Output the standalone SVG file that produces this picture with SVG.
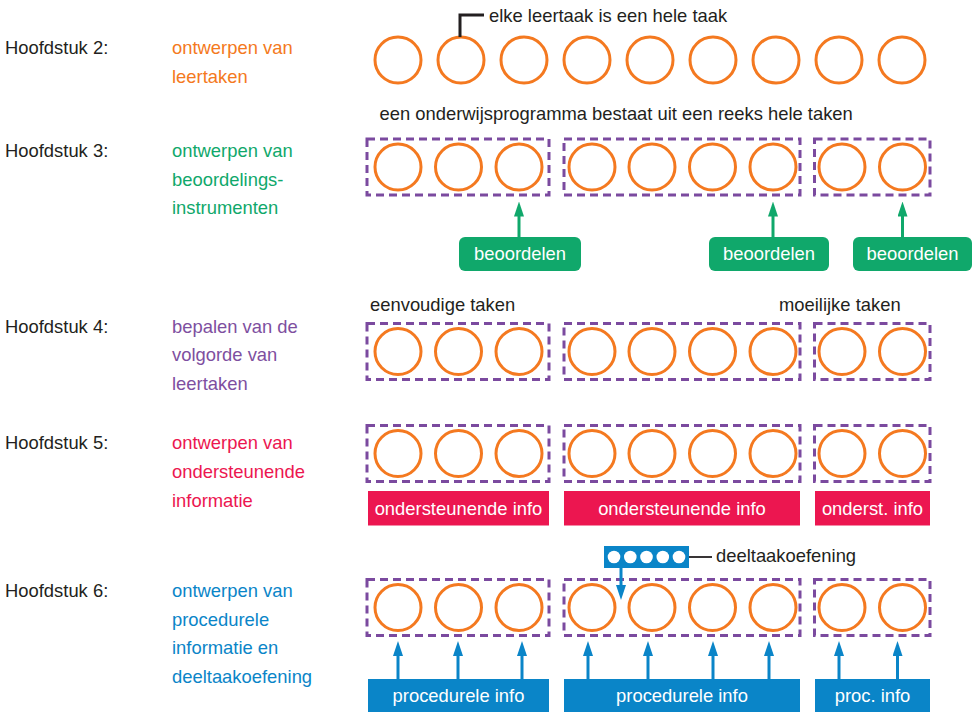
<svg xmlns="http://www.w3.org/2000/svg" width="978" height="712" viewBox="0 0 978 712">
<style>
text{font-family:"Liberation Sans",Arial,sans-serif;font-size:18.4px;fill:#231F20}
.or{fill:#F47920}.gr{fill:#10A86B}.pu{fill:#7E4FA0}.rd{fill:#EC1650}.bl{fill:#0A85C8}
.c{fill:none;stroke:#F47920;stroke-width:3}
.db{fill:none;stroke:#7B4A9F;stroke-width:3;stroke-dasharray:8 5}
.wt{fill:#fff;text-anchor:middle}
.ga{stroke:#10A86B;stroke-width:3;fill:none}
.ba{stroke:#0A85C8;stroke-width:3;fill:none}
.k{stroke:#231F20;fill:none}
</style>
<defs>
<marker id="ag" viewBox="0 0 15 10" refX="5" refY="5" markerWidth="15" markerHeight="10" markerUnits="userSpaceOnUse" orient="auto"><path d="M0,0 L15,5 L0,10 Z" fill="#10A86B"/></marker>
<marker id="ab" viewBox="0 0 15 10" refX="5" refY="5" markerWidth="15" markerHeight="10" markerUnits="userSpaceOnUse" orient="auto"><path d="M0,0 L15,5 L0,10 Z" fill="#0A85C8"/></marker>
<g id="row"><circle class="c" cx="398" cy="0" r="23"/><circle class="c" cx="458.5" cy="0" r="23"/><circle class="c" cx="519" cy="0" r="23"/><circle class="c" cx="592" cy="0" r="23"/><circle class="c" cx="652" cy="0" r="23"/><circle class="c" cx="712.5" cy="0" r="23"/><circle class="c" cx="773" cy="0" r="23"/><circle class="c" cx="842" cy="0" r="23"/><circle class="c" cx="902.5" cy="0" r="23"/><rect class="db" x="367" y="-28" width="182" height="56"/><rect class="db" x="564" y="-28" width="236" height="56"/><rect class="db" x="814.5" y="-28" width="115.5" height="56"/></g>
</defs>

<g id="labels">
<text x="5" y="54">Hoofdstuk 2:</text>
<text class="or" x="172" y="54">ontwerpen van</text>
<text class="or" x="172" y="82.5">leertaken</text>
<text x="5" y="157">Hoofdstuk 3:</text>
<text class="gr" x="172" y="157">ontwerpen van</text>
<text class="gr" x="172" y="185.5">beoordelings-</text>
<text class="gr" x="172" y="214">instrumenten</text>
<text x="5" y="332.5">Hoofdstuk 4:</text>
<text class="pu" x="172" y="332.5">bepalen van de</text>
<text class="pu" x="172" y="361">volgorde van</text>
<text class="pu" x="172" y="390">leertaken</text>
<text x="5" y="449">Hoofdstuk 5:</text>
<text class="rd" x="172" y="449">ontwerpen van</text>
<text class="rd" x="172" y="478">ondersteunende</text>
<text class="rd" x="172" y="506.5">informatie</text>
<text x="5" y="597">Hoofdstuk 6:</text>
<text class="bl" x="172" y="597">ontwerpen van</text>
<text class="bl" x="172" y="625.5">procedurele</text>
<text class="bl" x="172" y="654">informatie en</text>
<text class="bl" x="172" y="682.5">deeltaakoefening</text>
</g>

<g id="row1">
<circle class="c" cx="398" cy="60" r="23"/><circle class="c" cx="461" cy="60" r="23"/><circle class="c" cx="524" cy="60" r="23"/><circle class="c" cx="587" cy="60" r="23"/><circle class="c" cx="650" cy="60" r="23"/><circle class="c" cx="713" cy="60" r="23"/><circle class="c" cx="776" cy="60" r="23"/><circle class="c" cx="839" cy="60" r="23"/><circle class="c" cx="902" cy="60" r="23"/>
<text x="489" y="22">elke leertaak is een hele taak</text>
<text x="379.5" y="120">een onderwijsprogramma bestaat uit een reeks hele taken</text>
</g>

<g id="row3"><use href="#row" y="167"/></g>
<g id="row4"><use href="#row" y="351.5"/>
<text x="370" y="311">eenvoudige taken</text>
<text x="779" y="311">moeilijke taken</text>
</g>
<g id="row5"><use href="#row" y="453.5"/></g>
<g id="row6"><use href="#row" y="607.5"/></g>

<g id="beoordelen1"><rect class="gr" x="459" y="237" width="122" height="34" rx="6"/><text class="wt" x="520" y="260">beoordelen</text></g>
<g id="beoordelen2"><rect class="gr" x="709" y="237" width="120" height="34" rx="6"/><text class="wt" x="769" y="260">beoordelen</text></g>
<g id="beoordelen3"><rect class="gr" x="853" y="237" width="119" height="34" rx="6"/><text class="wt" x="912.5" y="260">beoordelen</text></g>

<g id="ondersteunend1"><rect class="rd" x="368" y="491" width="181" height="34.5"/><text class="wt" x="458.5" y="515">ondersteunende info</text></g>
<g id="ondersteunend2"><rect class="rd" x="564" y="491" width="236" height="34.5"/><text class="wt" x="682" y="515">ondersteunende info</text></g>
<g id="ondersteunend3"><rect class="rd" x="815" y="491" width="115" height="34.5"/><text class="wt" x="872.5" y="515">onderst. info</text></g>

<g id="procedureel1"><rect class="bl" x="368" y="679" width="181" height="33"/><text class="wt" x="458.5" y="702">procedurele info</text></g>
<g id="procedureel2"><rect class="bl" x="564" y="679" width="236" height="33"/><text class="wt" x="682" y="702">procedurele info</text></g>
<g id="procedureel3"><rect class="bl" x="815" y="679" width="115" height="33"/><text class="wt" x="872.5" y="702">proc. info</text></g>

<g id="deeltaak">
<rect class="bl" x="604" y="546" width="85" height="22"/>
<circle cx="614" cy="557" r="6.3" fill="#fff"/><circle cx="630.3" cy="557" r="6.3" fill="#fff"/><circle cx="646.5" cy="557" r="6.3" fill="#fff"/><circle cx="662.8" cy="557" r="6.3" fill="#fff"/><circle cx="679" cy="557" r="6.3" fill="#fff"/>
<text x="716" y="562">deeltaakoefening</text>
</g>

<g id="connectors">
<polyline class="k" stroke-width="3" points="460,37 460,15 484,15"/>
<line class="k" stroke-width="1.8" x1="689" y1="557" x2="712" y2="557"/>
<line class="ga" x1="519" y1="237" x2="519" y2="211.5" marker-end="url(#ag)"/>
<line class="ga" x1="773" y1="237" x2="773" y2="211.5" marker-end="url(#ag)"/>
<line class="ga" x1="902.5" y1="237" x2="902.5" y2="211.5" marker-end="url(#ag)"/>
<line class="ba" x1="621" y1="568" x2="621" y2="590" marker-end="url(#ab)"/>
<line class="ba" x1="398" y1="679" x2="398" y2="651" marker-end="url(#ab)"/>
<line class="ba" x1="458" y1="679" x2="458" y2="651" marker-end="url(#ab)"/>
<line class="ba" x1="522" y1="679" x2="522" y2="651" marker-end="url(#ab)"/>
<line class="ba" x1="588" y1="679" x2="588" y2="651" marker-end="url(#ab)"/>
<line class="ba" x1="648" y1="679" x2="648" y2="651" marker-end="url(#ab)"/>
<line class="ba" x1="713" y1="679" x2="713" y2="651" marker-end="url(#ab)"/>
<line class="ba" x1="769" y1="679" x2="769" y2="651" marker-end="url(#ab)"/>
<line class="ba" x1="839" y1="679" x2="839" y2="651" marker-end="url(#ab)"/>
<line class="ba" x1="897.5" y1="679" x2="897.5" y2="651" marker-end="url(#ab)"/>
</g>
</svg>
